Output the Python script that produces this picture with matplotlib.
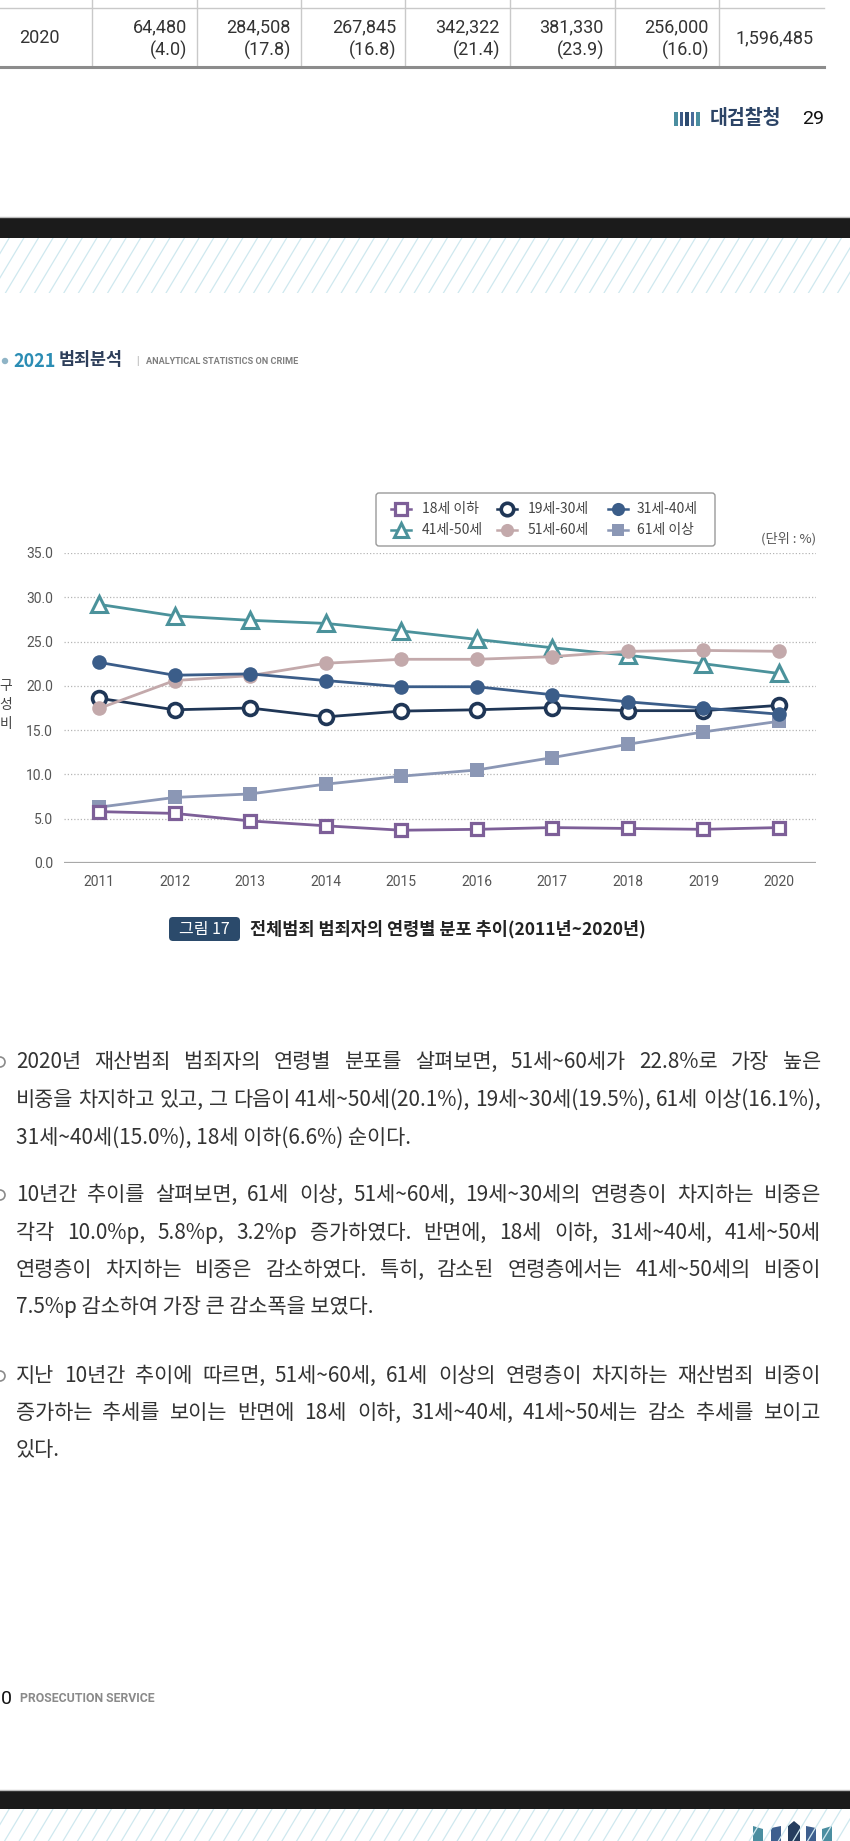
import matplotlib
matplotlib.use("Agg")
import matplotlib.pyplot as plt
from matplotlib.patches import Rectangle, FancyBboxPatch, Circle, Polygon
from matplotlib.lines import Line2D

plt.rcParams['font.family'] = ['Noto Sans CJK KR', 'DejaVu Sans']

# ---------------- data ----------------
years = [2011, 2012, 2013, 2014, 2015, 2016, 2017, 2018, 2019, 2020]
age_under18 = [5.8, 5.6, 4.75, 4.2, 3.7, 3.8, 4.0, 3.9, 3.8, 4.0]
age_19_30 = [18.6, 17.3, 17.5, 16.5, 17.15, 17.3, 17.55, 17.2, 17.2, 17.8]
age_31_40 = [22.65, 21.2, 21.35, 20.6, 19.9, 19.9, 19.0, 18.2, 17.5, 16.8]
age_41_50 = [29.2, 27.9, 27.4, 27.05, 26.2, 25.25, 24.3, 23.45, 22.5, 21.4]
age_51_60 = [17.45, 20.6, 21.15, 22.55, 23.0, 23.0, 23.3, 23.9, 24.0, 23.9]
age_over61 = [6.3, 7.4, 7.8, 8.9, 9.8, 10.5, 11.9, 13.4, 14.8, 16.0]
legend_labels = ['18세 이하', '19세-30세', '31세-40세', '41세-50세', '51세-60세', '61세 이상']
y_ticks = [0, 5, 10, 15, 20, 25, 30, 35]

table_year = '2020'
table_counts = ['64,480', '284,508', '267,845', '342,322', '381,330', '256,000']
table_shares = ['(4.0)', '(17.8)', '(16.8)', '(21.4)', '(23.9)', '(16.0)']
table_total = '1,596,485'

caption_tag = '그림 17'
caption_text = '전체범죄 범죄자의 연령별 분포 추이(2011년~2020년)'

paragraphs = [
    ["2020년 재산범죄 범죄자의 연령별 분포를 살펴보면, 51세~60세가 22.8%로 가장 높은",
     "비중을 차지하고 있고, 그 다음이 41세~50세(20.1%), 19세~30세(19.5%), 61세 이상(16.1%),",
     "31세~40세(15.0%), 18세 이하(6.6%) 순이다."],
    ["10년간 추이를 살펴보면, 61세 이상, 51세~60세, 19세~30세의 연령층이 차지하는 비중은",
     "각각 10.0%p, 5.8%p, 3.2%p 증가하였다. 반면에, 18세 이하, 31세~40세, 41세~50세",
     "연령층이 차지하는 비중은 감소하였다. 특히, 감소된 연령층에서는 41세~50세의 비중이",
     "7.5%p 감소하여 가장 큰 감소폭을 보였다."],
    ["지난 10년간 추이에 따르면, 51세~60세, 61세 이상의 연령층이 차지하는 재산범죄 비중이",
     "증가하는 추세를 보이는 반면에 18세 이하, 31세~40세, 41세~50세는 감소 추세를 보이고",
     "있다."],
]

# ---------------- figure ----------------
W, H = 850, 1841
fig = plt.figure(figsize=(W / 100, H / 100), dpi=100)
fig.patch.set_facecolor('white')
ov = fig.add_axes([0, 0, 1, 1])
ov.set_xlim(0, W)
ov.set_ylim(H, 0)
ov.axis('off')

# ---- top table fragment ----
grid_c = '#c9c9c9'
ov.plot([0, 824], [8, 8], color=grid_c, lw=1)
for xv in [92, 197, 301, 405, 510, 615, 719]:
    ov.plot([xv, xv], [0, 66], color=grid_c, lw=1)
ov.plot([0, 824], [67, 67], color='#8c8c8c', lw=2.2)
ov.text(39, 38, table_year, ha='center', va='center', fontsize=13, color='#333333', family='Roboto')
col_right = [187, 291, 396, 500, 604, 709]
for xr, c, s in zip(col_right, table_counts, table_shares):
    ov.text(xr, 27, c, ha='right', va='center', fontsize=13, color='#333333', family='Roboto')
    ov.text(xr, 50, s, ha='right', va='center', fontsize=13, color='#333333', family='Roboto')
ov.text(814, 38, table_total, ha='right', va='center', fontsize=13, color='#333333', family='Roboto')

# ---- page footer (29) ----
bar_cols = ['#4b8ea0', '#3c5a86', '#2c4a6e', '#4a6b9a', '#4b8ea0']
for i, bc in enumerate(bar_cols):
    ov.add_patch(Rectangle((674 + i * 5.6, 112), 3.6, 13.5, color=bc, lw=0))
ov.text(710, 118.5, '대검찰청', ha='left', va='center', fontsize=14, fontweight='bold', color='#2c4466')
ov.text(824, 118.5, '29', ha='right', va='center', fontsize=14, color='#111111', family='Roboto')


# ---- dark bands & hatch ----
def band(y0, y1, h0, h1):
    ov.plot([0, W], [y0 - 1.5, y0 - 1.5], color='#bdbdbd', lw=1)
    ov.add_patch(Rectangle((0, y0), W, y1 - y0, color='#1b1b1b', lw=0))
    clip = Rectangle((0, h0), W, h1 - h0, transform=ov.transData, facecolor='none', edgecolor='none')
    ov.add_patch(clip)
    dx = (h1 - h0) * 0.6
    x = -dx - 20
    while x < W + 20:
        ln = Line2D([x, x + dx], [h1, h0], color='#cfe8ef', lw=0.9)
        ov.add_line(ln)
        ln.set_clip_path(clip)
        x += 14.6


band(218, 238, 238, 293)
band(1791, 1809, 1809, 1841)

# bottom-right logo
ov.add_patch(Polygon([[753, 1841], [753, 1826], [763, 1829], [763, 1841]], color='#4b8ea0', lw=0))
ov.add_patch(Polygon([[771, 1841], [771, 1828], [781, 1826], [781, 1841]], color='#3e5f8e', lw=0))
ov.add_patch(Polygon([[788, 1841], [788, 1826], [794, 1821], [800, 1826], [800, 1841]], color='#253d5e', lw=0))
ov.add_patch(Polygon([[806, 1841], [806, 1826], [816, 1828], [816, 1841]], color='#3e5f8e', lw=0))
ov.add_patch(Polygon([[822, 1841], [822, 1829], [832, 1826], [832, 1841]], color='#4b8ea0', lw=0))

# ---- section header ----
ov.add_patch(Circle((5, 361), 3.2, color='#8fb4c6', lw=0))
ov.text(13, 361, '2021', ha='left', va='center', fontsize=13, fontweight='bold', color='#2b8db4')
ov.text(59, 360, '범죄분석', ha='left', va='center', fontsize=12.5, fontweight='bold', color='#2d3e5a')
ov.text(137, 361, '|', ha='center', va='center', fontsize=6.5, color='#999999')
ov.text(146, 361, 'ANALYTICAL STATISTICS ON CRIME', ha='left', va='center', fontsize=6.6,
        fontweight='bold', color='#808080', family='Roboto')

# ---------------- chart ----------------
ax_l, ax_r, ax_t, ax_b = 64, 816, 553, 863
ax = fig.add_axes([ax_l / W, 1 - ax_b / H, (ax_r - ax_l) / W, (ax_b - ax_t) / H])
ax.set_facecolor('none')
ax.set_xlim(2010.537, 2020.49)
ax.set_ylim(0, 35)
for s in ax.spines.values():
    s.set_visible(False)
for yv in y_ticks[1:]:
    ax.axhline(yv, color='#b5b5b5', lw=0.9, ls=(0, (1, 1.6)), zorder=0)
ax.axhline(0, color='#a8a8a8', lw=1.6, zorder=0)
ax.set_yticks(y_ticks)
ax.set_yticklabels([f'{v:.1f}' for v in y_ticks])
ax.set_xticks(years)
ax.set_xticklabels([str(y) for y in years])
ax.tick_params(axis='both', length=0, labelsize=10, labelcolor='#555555')
ax.tick_params(axis='y', pad=8)
ax.tick_params(axis='x', pad=9)
for lab in ax.get_xticklabels() + ax.get_yticklabels():
    lab.set_family('Roboto')

styles = [
    dict(color='#7d5f98', marker='s', mfc='white', ms=9, mew=2.3),
    dict(color='#1f3656', marker='o', mfc='white', ms=10, mew=2.6),
    dict(color='#3b5d89', marker='o', ms=10.5, mew=0),
    dict(color='#4b929b', marker='^', mfc='white', ms=11, mew=2.2),
    dict(color='#c3a9ab', marker='o', ms=10.5, mew=0),
    dict(color='#8b97b5', marker='s', ms=10, mew=0),
]
series = [age_under18, age_19_30, age_31_40, age_41_50, age_51_60, age_over61]
zorders = [6, 5, 6, 4, 5, 3]
for vals, st, zo in zip(series, styles, zorders):
    ax.plot(years, vals, lw=2.0, clip_on=False, zorder=zo, **st)

# legend (drawn in page coordinates)
ov.add_patch(FancyBboxPatch((376, 493), 339, 53, boxstyle='round,pad=0,rounding_size=3',
                            facecolor='white', edgecolor='#9a9a9a', lw=1.0, zorder=5))
leg_x = [401, 507, 618]
leg_tx = [422, 528, 637]
leg_y = [509, 530]
for i, (lab, st) in enumerate(zip(legend_labels, styles)):
    r, c = divmod(i, 3)
    st2 = dict(st)
    st2['ms'] = st['ms'] * 0.9
    ov.plot([leg_x[c] - 10, leg_x[c] + 10], [leg_y[r], leg_y[r]], lw=1.8, zorder=6,
            color=st['color'])
    ov.plot([leg_x[c]], [leg_y[r]], lw=0, zorder=7, **st2)
    ov.text(leg_tx[c], leg_y[r], lab, ha='left', va='center', fontsize=10, color='#444444', zorder=7)
ov.text(816, 539, '(단위 : %)', ha='right', va='center', fontsize=9.5, color='#555555')

# y-axis label (stacked)
for ch, yy in zip('구성비', [686, 705, 724]):
    ov.text(6, yy, ch, ha='center', va='center', fontsize=10, color='#444444')

# ---- caption ----
ov.add_patch(FancyBboxPatch((169, 917), 71, 24, boxstyle='round,pad=0,rounding_size=4',
                            facecolor='#2b4a6b', edgecolor='none'))
ov.text(204.5, 929, caption_tag, ha='center', va='center', fontsize=11.5, color='white')
ov.text(250, 929, caption_text, ha='left', va='center', fontsize=12.6, fontweight='bold', color='#222222')

# ---- body text ----
renderer = fig.canvas.get_renderer()
body_kw = dict(fontsize=15, color='#333333')


def put_line(text, x0, x1, y, justify):
    words = text.split(' ')
    if not justify or len(words) == 1:
        ov.text(x0, y, text, ha='left', va='center', **body_kw)
        return
    widths = []
    for w in words:
        t = ov.text(0, 0, w, **body_kw)
        widths.append(t.get_window_extent(renderer).width)
        t.remove()
    gap = (x1 - x0 - sum(widths)) / (len(words) - 1)
    x = x0
    for w, wd in zip(words, widths):
        ov.text(x, y, w, ha='left', va='center', **body_kw)
        x += wd + gap


para_y = [[1062, 1100, 1138], [1195, 1233, 1270, 1307], [1376, 1413, 1450]]
for lines, ys in zip(paragraphs, para_y):
    ov.add_patch(Circle((0, ys[0]), 5, facecolor='none', edgecolor='#8a8a8a', lw=1.2))
    for k, (ln, yy) in enumerate(zip(lines, ys)):
        put_line(ln, 16, 821, yy, justify=(k < len(lines) - 1))

# ---- bottom page footer (page number partly off-page: only "0" shows) ----
ov.text(0.5, 1699, '0', ha='left', va='center', fontsize=14, color='#111111', family='Roboto')
ov.text(20, 1699, 'PROSECUTION SERVICE', ha='left', va='center', fontsize=8.8, fontweight='bold',
        color='#8a8a8a', family='Roboto')

fig.savefig('out.png', dpi=100, facecolor='white')
